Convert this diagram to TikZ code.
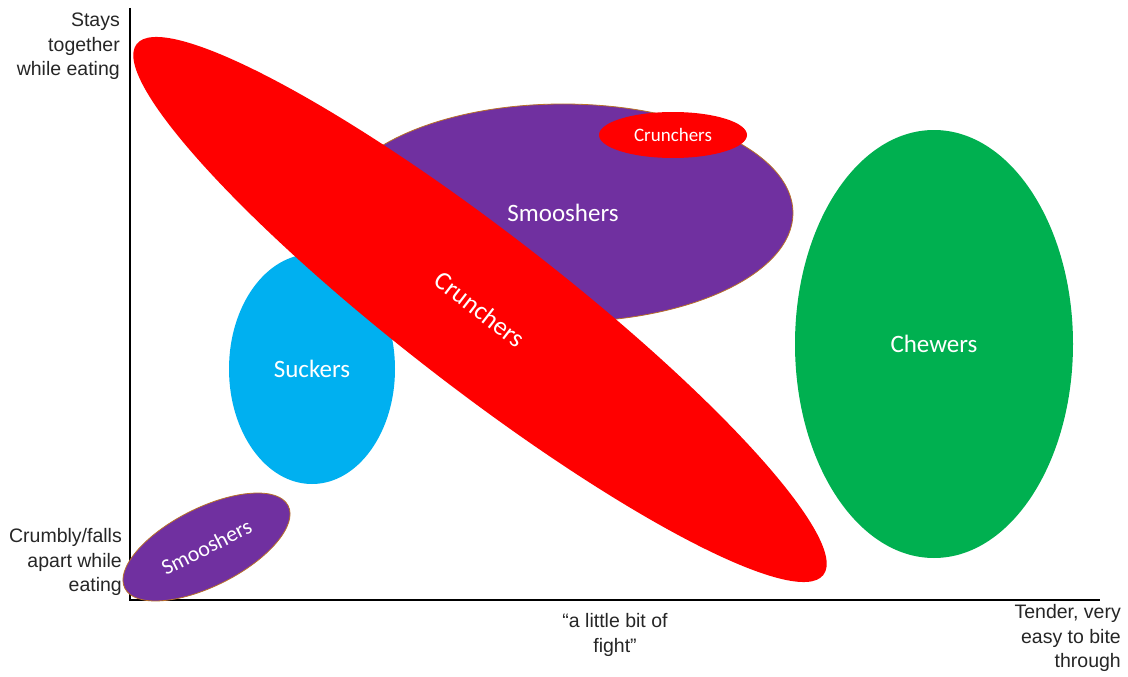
\documentclass[tikz,border=0pt]{standalone}
\usepackage{fontspec}
\setmainfont{Liberation Sans}
\newfontfamily\carlito{Carlito}
\usetikzlibrary{shapes.geometric}
\definecolor{cred}{HTML}{FF0000}
\definecolor{cpurple}{HTML}{7030A0}
\definecolor{cblue}{HTML}{00B0F0}
\definecolor{cgreen}{HTML}{00B050}
\definecolor{cedge}{HTML}{B8702A}
\definecolor{ctext}{HTML}{262626}
\tikzset{
  blob/.style={ellipse, inner sep=0pt, text=white},
  axislabel/.style={inner sep=0pt, text=ctext, font=\fontsize{19.5}{24.5}\selectfont},
  axisline/.style={line width=1.4pt, black}
}
\begin{document}
\begin{tikzpicture}[x=1pt,y=-1pt]
\useasboundingbox[fill=white] (0,0) rectangle (1128,677);
% axes
\coordinate (top) at (130,8);
\coordinate (origin) at (130,600);
\coordinate (right) at (1100,600);
\draw[axisline] (top) -- (origin) -- (right);
% labels
\node[axislabel, align=right, anchor=east] (stays) at (120,46.5) {Stays\\together\\while eating};
\node[axislabel, align=right, anchor=east] (crumbly) at (122,562) {Crumbly/falls\\apart while\\eating};
\node[axislabel, align=center] (fight) at (615,635) {“a little bit of\\fight”};
\node[axislabel, align=right, anchor=east] (tender) at (1121,638) {Tender, very\\easy to bite\\through};
% ellipses
\node[blob, fill=cpurple, draw=cedge, line width=0.8pt, minimum width=460pt, minimum height=218pt,
  font=\carlito\fontsize{25}{30}\selectfont] (smoosh) at (563,213) {Smooshers};
\node[blob, fill=cred, minimum width=148pt, minimum height=46pt,
  font=\carlito\fontsize{19}{23}\selectfont] (crunchsmall) at (673,135) {Crunchers};
\node[blob, fill=cblue, minimum width=166pt, minimum height=230pt,
  font=\carlito\fontsize{25}{30}\selectfont] (suck) at (312,369) {Suckers};
\node[blob, fill=cgreen, minimum width=278pt, minimum height=428pt,
  font=\carlito\fontsize{25}{30}\selectfont] (chew) at (934,344) {Chewers};
\node[blob, fill=cred, minimum width=868pt, minimum height=156pt, rotate=-37.7,
  font=\carlito\fontsize{26}{30}\selectfont] (crunchbig) at (480,309.5) {Crunchers};
\node[blob, fill=cpurple, draw=cedge, line width=0.8pt, minimum width=183pt, minimum height=78pt, rotate=26.8,
  font=\carlito\fontsize{22}{26}\selectfont] (smooshsmall) at (206.5,547) {Smooshers};
\end{tikzpicture}
\end{document}
